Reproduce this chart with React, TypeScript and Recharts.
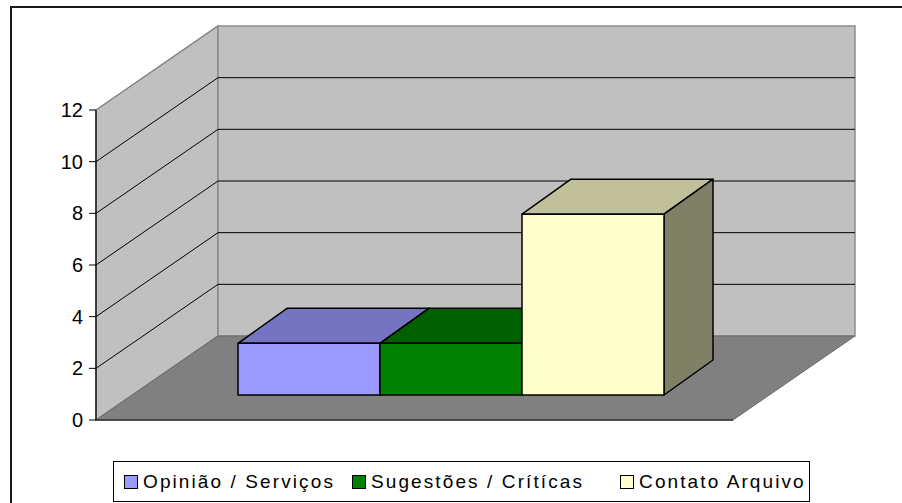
import { Bar, BarChart, CartesianGrid, Legend, XAxis, YAxis } from "recharts";

const categories = ["Total"];
const seriesNames = ["Opinião / Serviços", "Sugestões / Crítícas", "Contato Arquivo"];
const opiniaoServicos = [2];
const sugestoesCriticas = [2];
const contatoArquivo = [7];
const yTicks = [0, 2, 4, 6, 8, 10, 12];

const data = categories.map((name, i) => ({
  name,
  opiniao: opiniaoServicos[i],
  sugestoes: sugestoesCriticas[i],
  contato: contatoArquivo[i],
}));

const series = [
  { key: "opiniao", name: seriesNames[0], front: "#9999FF", top: "#7474C0", side: "#4D4D80", gap: 17 },
  { key: "sugestoes", name: seriesNames[1], front: "#008000", top: "#006000", side: "#004000", gap: 36 },
  { key: "contato", name: seriesNames[2], front: "#FFFFCC", top: "#C0C09A", side: "#808066", gap: 0 },
];

// 3d projection: back wall offset, bar front offset, bar depth
const WALL_DX = 122;
const WALL_DY = -84;
const BAR_OX = 36;
const BAR_OY = -25;
const BAR_DX = 49;
const BAR_DY = -35;

const FONT = "'Liberation Sans', Arial, sans-serif";

function pts(list: number[][]) {
  return list.map((p) => p.join(",")).join(" ");
}

function Box3D(props: any) {
  const { x, y, width, height, front, top, side } = props;
  const fx = x + BAR_OX;
  const fy = y + BAR_OY;
  return (
    <g stroke="#000" strokeWidth={1.5} strokeLinejoin="round">
      <polygon
        points={pts([[fx, fy], [fx + BAR_DX, fy + BAR_DY], [fx + width + BAR_DX, fy + BAR_DY], [fx + width, fy]])}
        fill={top}
      />
      <polygon
        points={pts([
          [fx + width, fy],
          [fx + width + BAR_DX, fy + BAR_DY],
          [fx + width + BAR_DX, fy + height + BAR_DY],
          [fx + width, fy + height],
        ])}
        fill={side}
      />
      <rect x={fx} y={fy} width={width} height={height} fill={front} />
    </g>
  );
}

function gridLine(p: any) {
  const { x1, y1, x2, index } = p;
  const top = p.y ?? 110;
  const bottom = top + (p.height ?? 310);
  const isEdge = Math.abs(y1 - bottom) < 0.5 || Math.abs(y1 - top) < 0.5;
  return (
    <g key={`grid-${index}`}>
      {index === 0 && (
        <g>
          <polygon
            points={pts([[x1, top], [x1 + WALL_DX, top + WALL_DY], [x1 + WALL_DX, bottom + WALL_DY], [x1, bottom]])}
            fill="#C0C0C0"
            stroke="#808080"
            strokeWidth={1.5}
          />
          <rect
            x={x1 + WALL_DX}
            y={top + WALL_DY}
            width={x2 - x1}
            height={bottom - top}
            fill="#C0C0C0"
            stroke="#8C8C8C"
            strokeWidth={1.5}
          />
          <polygon
            points={pts([[x1, bottom], [x2, bottom], [x2 + WALL_DX, bottom + WALL_DY], [x1 + WALL_DX, bottom + WALL_DY]])}
            fill="#808080"
            stroke="#6A6A6A"
            strokeWidth={1}
          />
        </g>
      )}
      {!isEdge && (
        <polyline
          points={pts([[x1, y1], [x1 + WALL_DX, y1 + WALL_DY], [x2 + WALL_DX, y1 + WALL_DY]])}
          fill="none"
          stroke="#000"
          strokeWidth={1}
        />
      )}
    </g>
  );
}

function LegendBox() {
  return (
    <div
      style={{
        boxSizing: "border-box",
        width: "100%",
        height: "100%",
        border: "1px solid #000",
        background: "#fff",
        display: "flex",
        alignItems: "center",
        paddingLeft: 10,
        fontFamily: FONT,
        fontSize: 19,
        letterSpacing: 2.1,
        color: "#000",
        whiteSpace: "nowrap",
      }}
    >
      {series.map((s) => (
        <span key={s.key} style={{ display: "flex", alignItems: "center", marginRight: s.gap }}>
          <span
            style={{
              display: "inline-block",
              boxSizing: "border-box",
              width: 14,
              height: 14,
              border: "1px solid #000",
              background: s.front,
              marginRight: 5,
            }}
          />
          {s.name}
        </span>
      ))}
    </div>
  );
}

export default function App() {
  return (
    <div style={{ position: "absolute", left: 0, top: 0, width: 902, height: 503, overflow: "hidden", background: "#fff" }}>
      <div
        style={{
          position: "absolute",
          left: 10,
          top: 6,
          width: 910,
          height: 520,
          border: "2px solid #1a1a1a",
        }}
      />
      <div style={{ position: "absolute", left: 0, top: 0 }}>
        <BarChart
          width={902}
          height={503}
          data={data}
          margin={{ top: 110, right: 169, bottom: 82, left: 36 }}
          barSize={142}
          barGap={0}
        >
          <CartesianGrid horizontal={gridLine} vertical={false} />
          <XAxis dataKey="name" tick={false} tickLine={false} height={1} axisLine={{ stroke: "#333", strokeWidth: 1.5 }} />
          <YAxis
            type="number"
            domain={[0, 12]}
            ticks={yTicks}
            width={60}
            tickSize={7}
            tickMargin={6}
            axisLine={{ stroke: "#000", strokeWidth: 1.2 }}
            tickLine={{ stroke: "#000" }}
            tick={{ fill: "#000", fontSize: 20, fontFamily: FONT }}
          />
          {series.map((s) => (
            <Bar
              key={s.key}
              dataKey={s.key}
              name={s.name}
              fill={s.front}
              isAnimationActive={false}
              shape={(p: any) => <Box3D {...p} front={s.front} top={s.top} side={s.side} />}
            />
          ))}
          <Legend
            layout="horizontal"
            verticalAlign="middle"
            align="center"
            content={() => <LegendBox />}
            wrapperStyle={{ left: 113, top: 461, width: 697, height: 41 }}
          />
        </BarChart>
      </div>
    </div>
  );
}
